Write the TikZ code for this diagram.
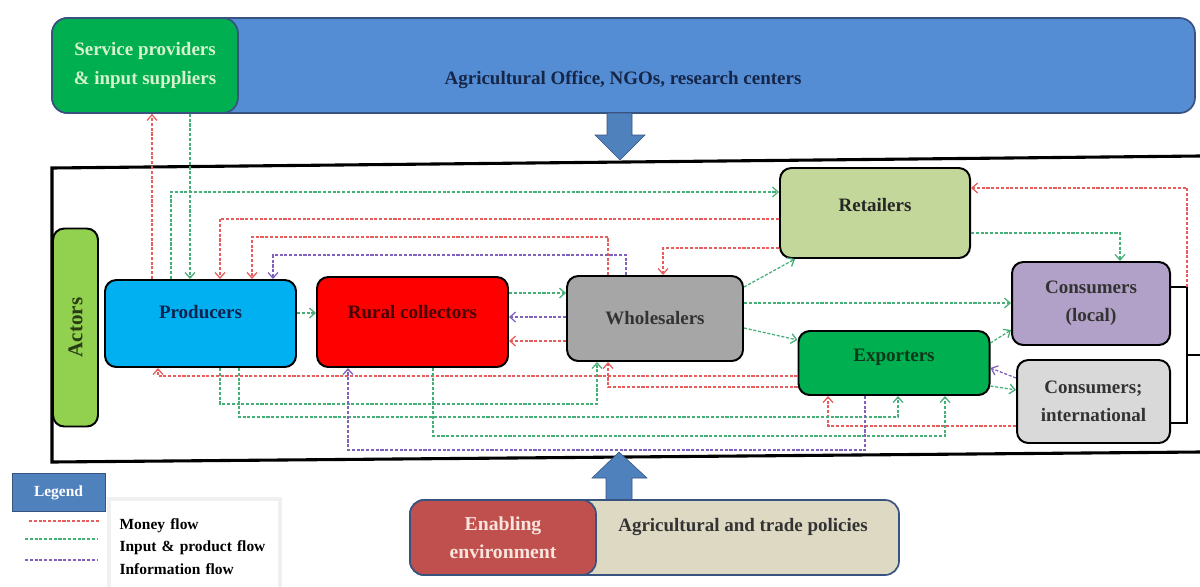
\documentclass[tikz,border=0pt]{standalone}
\usepackage{fontspec}
\setmainfont{Liberation Serif}
\usetikzlibrary{arrows.meta}
\newdimen\pxu \pxu=0.025cm
\definecolor{barblue}{RGB}{84,141,212}
\definecolor{barline}{RGB}{56,83,128}
\definecolor{officetext}{RGB}{22,38,72}
\definecolor{spgreen}{RGB}{0,176,80}
\definecolor{sptext}{RGB}{215,242,205}
\definecolor{arrowblue}{RGB}{79,129,189}
\definecolor{actorgreen}{RGB}{146,208,80}
\definecolor{actortext}{RGB}{40,60,20}
\definecolor{prodblue}{RGB}{0,176,240}
\definecolor{prodtext}{RGB}{15,35,80}
\definecolor{ruralred}{RGB}{255,0,0}
\definecolor{ruraltext}{RGB}{70,0,0}
\definecolor{wholegrey}{RGB}{166,166,166}
\definecolor{retolive}{RGB}{196,215,155}
\definecolor{expgreen}{RGB}{0,176,80}
\definecolor{exptext}{RGB}{15,55,25}
\definecolor{conlilac}{RGB}{177,160,199}
\definecolor{congrey}{RGB}{217,217,217}
\definecolor{envred}{RGB}{192,80,77}
\definecolor{envtext}{RGB}{250,228,222}
\definecolor{polbeige}{RGB}{221,217,195}
\definecolor{legblue}{RGB}{79,129,189}
\definecolor{moneyred}{RGB}{232,92,92}
\definecolor{goodsgreen}{RGB}{70,175,120}
\definecolor{infopurple}{RGB}{128,98,190}
\begin{document}
\begin{tikzpicture}[x=0.025cm, y=-0.025cm,
  >={Straight Barb[length=4pt,width=7pt]},
  actor/.style={draw=black, line width=1.4pt, rounded corners=8pt, font=\fontsize{13.5}{20}\selectfont\bfseries},
  flow/.style={->, line width=0.9pt, dash pattern=on 2.2pt off 1.2pt},
  money/.style={flow, draw=moneyred},
  goods/.style={flow, draw=goodsgreen},
  info/.style={flow, draw=infopurple},
  lift/.style={text depth=#1}]
\useasboundingbox (0,0) rectangle (1200,586);

\node[draw=barline, line width=1.2pt, fill=barblue, rounded corners=11pt, minimum width=1143\pxu, minimum height=95\pxu] (office) at (623.5,65.5) {};
\node[font=\fontsize{13.5}{16}\selectfont\bfseries, text=officetext] (officetxt) at (623,80) {Agricultural Office, NGOs, research centers};
\node[draw=barline, line width=1.2pt, fill=spgreen, rounded corners=11pt, minimum width=186\pxu, minimum height=95\pxu, align=center, font=\fontsize{13.5}{21}\selectfont\bfseries, text=sptext] (sp) at (145,65.5) {Service providers\\\& input suppliers};
\filldraw[fill=arrowblue, draw=barline] (607,113) -- (632,113) -- (632,135) -- (645,135) -- (620,160) -- (595,135) -- (607,135) -- cycle;

\draw[line width=2.2pt] (1200,156) -- (52,168) -- (52,462) -- (1200,452);

\node[actor, fill=actorgreen, rotate=90, minimum width=198\pxu, minimum height=45\pxu, text=actortext, font=\fontsize{15}{18}\selectfont\bfseries] (actors) at (75.5,327.5) {Actors};
\node[actor, fill=prodblue, text=prodtext, minimum width=191\pxu, minimum height=87\pxu, lift=16pt] (prod) at (200.5,323.5) {Producers};
\node[actor, fill=ruralred, text=ruraltext, minimum width=191\pxu, minimum height=90\pxu, lift=15pt] (rural) at (412.5,322) {Rural collectors};
\node[actor, fill=wholegrey, text=black!80, minimum width=176\pxu, minimum height=85\pxu] (whole) at (655,318.5) {Wholesalers};
\node[actor, fill=retolive, text=black!85, minimum width=190\pxu, minimum height=90\pxu, lift=12pt] (ret) at (875,213) {Retailers};
\node[actor, fill=expgreen, text=exptext, minimum width=191\pxu, minimum height=64\pxu, lift=11pt] (exp) at (894,363) {Exporters};
\node[actor, fill=conlilac, text=black!80, minimum width=158\pxu, minimum height=83\pxu, align=center] (conl) at (1091,303.5) {Consumers\\(local)};
\node[actor, fill=congrey, text=black!80, minimum width=153\pxu, minimum height=83\pxu, align=center] (coni) at (1093.5,401.5) {Consumers;\\international};

\coordinate (brk) at (1187,287);
\draw[line width=1.5pt] (conl.east |- brk) -- (brk) -- (1187,423) -- (coni.east |- 0,423);
\draw[line width=1.5pt] (1187,355) -- (1200,355);

\draw[money] (152,0 |- prod.north) -- (152,0 |- sp.south);
\draw[goods] (190,0 |- sp.south) -- (190,0 |- prod.north);
\draw[goods] (171,0 |- prod.north) |- (ret.west |- 0,192);
\draw[money] (ret.west |- 0,219) -| (220,0 |- prod.north);
\draw[money] (608,0 |- whole.north) -- (608,237) -| (252,0 |- prod.north);
\draw[info] (626,0 |- whole.north) -- (626,255) -| (273,0 |- prod.north);
\draw[money] (ret.west |- 0,248) -| (663,0 |- whole.north);
\draw[goods] (whole.east |- 0,287) -- (795,0 |- ret.south);
\draw[goods] (ret.east |- 0,233) -| (1120,0 |- conl.north);
\draw[money] (brk) |- (ret.east |- 0,188);

\draw[goods] (prod.east |- 0,313) -- (rural.west |- 0,313);
\draw[goods] (rural.east |- 0,293) -- (whole.west |- 0,293);
\draw[info] (whole.west |- 0,317) -- (rural.east |- 0,317);
\draw[money] (whole.west |- 0,341) -- (rural.east |- 0,341);
\draw[goods] (whole.east |- 0,303) -- (conl.west |- 0,303);
\draw[goods] (whole.east |- 0,328) -- (exp.west |- 0,340);
\draw[goods] (exp.east |- 0,343) -- (conl.west |- 0,330);
\draw[info] (coni.west |- 0,378) -- (exp.east |- 0,368);
\draw[goods] (exp.east |- 0,386) -- (coni.west |- 0,390);

\draw[money] (exp.west |- 0,376) -| (158,0 |- prod.south);
\draw[money] (exp.west |- 0,387) -| (608,0 |- whole.south);
\draw[money] (coni.west |- 0,426) -| (828,0 |- exp.south);
\draw[goods] (220,0 |- prod.south) -- (220,404) -| (597,0 |- whole.south);
\draw[goods] (239,0 |- prod.south) -- (239,417) -| (898,0 |- exp.south);
\draw[goods] (433,0 |- rural.south) -- (433,436) -| (945,0 |- exp.south);
\draw[info] (865,0 |- exp.south) -- (865,450) -| (348,0 |- rural.south);

\filldraw[fill=arrowblue, draw=barline] (606,500) -- (632,500) -- (632,478) -- (647,478) -- (619,452) -- (592,478) -- (606,478) -- cycle;
\node[draw=barline, line width=1.2pt, fill=polbeige, rounded corners=10pt, minimum width=489\pxu, minimum height=75\pxu] (pol) at (654.5,537.5) {};
\node[font=\fontsize{13.5}{16}\selectfont\bfseries, text=black!80] (poltxt) at (743,527) {Agricultural and trade policies};
\node[draw=barline, line width=1.2pt, fill=envred, rounded corners=10pt, minimum width=186\pxu, minimum height=75\pxu, align=center, font=\fontsize{14}{20}\selectfont\bfseries, text=envtext] (env) at (503,537.5) {Enabling\\environment};

\node[draw=barline, fill=legblue, minimum width=93\pxu, minimum height=38\pxu, text=white, font=\fontsize{11}{13}\selectfont\bfseries] (legend) at (58.5,492.5) {Legend};
\node[draw=black!6, line width=3pt, fill=white, anchor=north west, minimum width=171\pxu, minimum height=95\pxu, text width=150\pxu, inner xsep=0pt, align=left, font=\fontsize{11}{16.3}\selectfont\bfseries] (key) at (107,497) {Money flow\\Input \& product flow\\Information flow};
\draw[money, -] (29,521) -- (100,521);
\draw[goods, -] (25,539) -- (97,539);
\draw[info, -] (25,560) -- (97,560);
\end{tikzpicture}
\end{document}
